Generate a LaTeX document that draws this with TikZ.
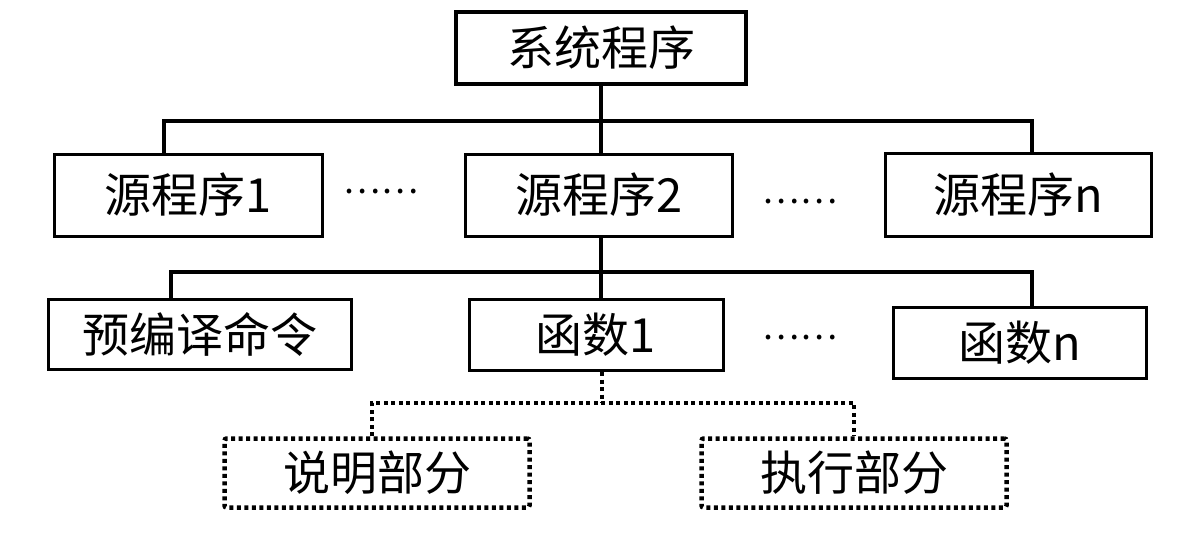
\documentclass[tikz,border=0pt]{standalone}
\usepackage{fontspec}
\setmainfont{Noto Sans CJK SC}
\begin{document}
\begin{tikzpicture}[x=1pt,y=-1pt,
  box/.style={draw=black,line width=3pt,fill=white,inner sep=0pt,font=\fontsize{47}{52}\selectfont},
  topbox/.style={box,line width=4.5pt},
  dotbox/.style={box,line width=4.5pt,dash pattern=on 4pt off 3.5pt,rounded corners=2pt},
  conn/.style={line width=4.5pt},
  dconn/.style={line width=4.5pt,dash pattern=on 4pt off 3.5pt},
  dots/.style={font=\fontsize{35}{40}\selectfont}]
\useasboundingbox (0,0) rectangle (1191,539);
\node[topbox,minimum width=290pt,minimum height=72pt] (top) at (601,48) {系统程序};
\node[box,minimum width=268pt,minimum height=82pt] (s1) at (188,195) {源程序1};
\node[box,minimum width=267pt,minimum height=82pt] (s2) at (599,195) {源程序2};
\node[box,minimum width=266pt,minimum height=83pt] (sn) at (1018,195) {源程序n};
\node[dots] (e1) at (381,192) {……};
\node[dots] (e2) at (800,202) {……};
\node[box,minimum width=303pt,minimum height=70pt] (p) at (199.5,334.5) {预编译命令};
\node[box,minimum width=254pt,minimum height=71pt] (f1) at (596,335) {函数1};
\node[box,minimum width=253pt,minimum height=71pt] (fn) at (1020,343) {函数n};
\node[dots] (e3) at (800,338) {……};
\node[dotbox,minimum width=305pt,minimum height=69pt] (d1) at (377,473) {说明部分};
\node[dotbox,minimum width=305pt,minimum height=69pt] (d2) at (854,473) {执行部分};
\coordinate (b1) at (164,121);
\coordinate (b3) at (1032,121);
\coordinate (c1) at (171,272);
\coordinate (c3) at (1032,272);
\coordinate (g1) at (372,403);
\coordinate (g3) at (854,403);
\draw[conn] (top.south -| 601,0) -- (601,121);
\draw[conn] (s1.north -| b1) |- (b3) -- (sn.north -| b3);
\draw[conn] (601,121) -- (s2.north -| 601,0);
\draw[conn] (s2.south -| 601,0) -- (601,272);
\draw[conn] (p.north -| c1) |- (c3) -- (fn.north -| c3);
\draw[conn] (601,272) -- (f1.north -| 601,0);
\draw[dconn] (f1.south -| 602,0) -- (602,403);
\draw[dconn] (d1.north -| g1) |- (g3) -- (d2.north -| g3);
\end{tikzpicture}
\end{document}
